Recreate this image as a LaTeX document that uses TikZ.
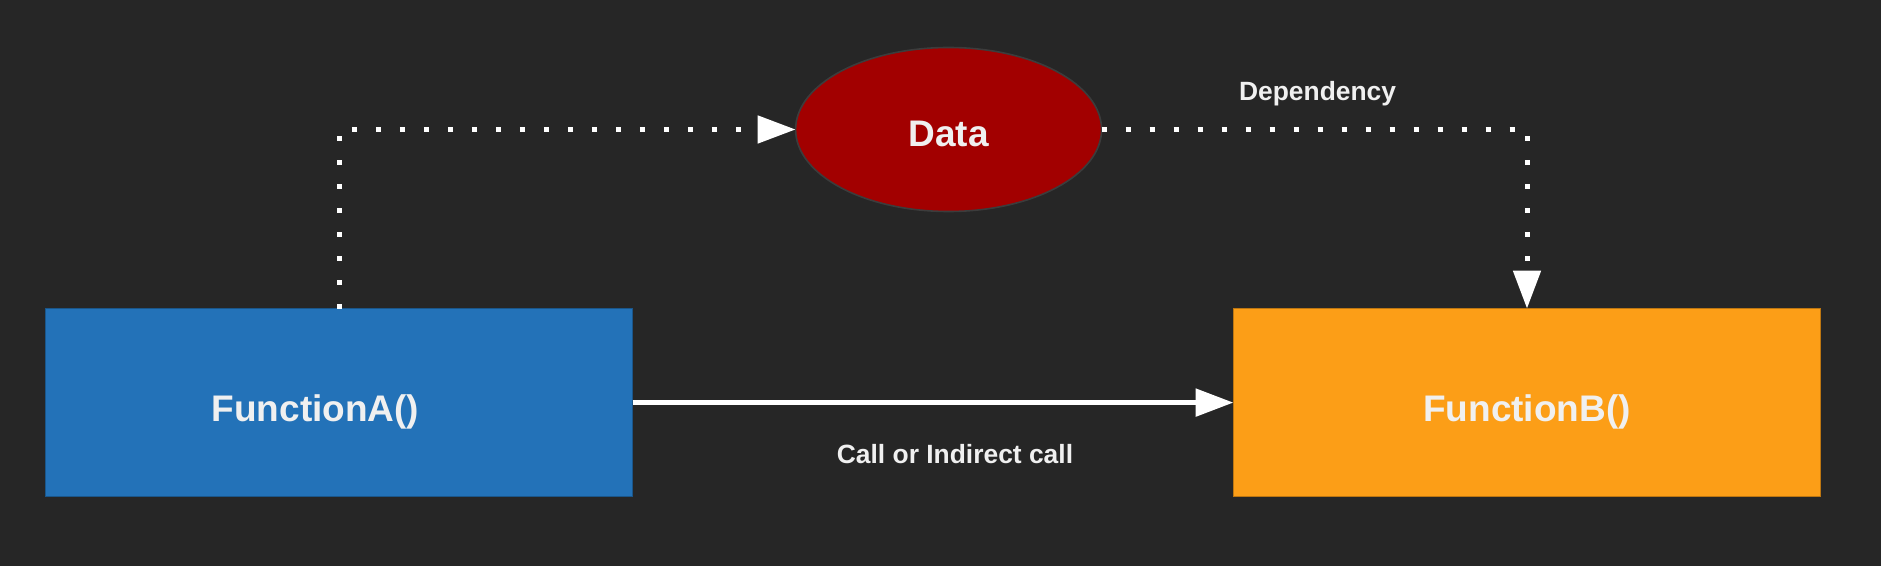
\documentclass[tikz,border=0pt]{standalone}
\usepackage{fontspec}
\setmainfont{Liberation Sans}
\usepackage{tikz}
\usetikzlibrary{arrows.meta,positioning,shapes.geometric}
\definecolor{bgdark}{HTML}{262626}
\definecolor{funcblue}{HTML}{2372B8}
\definecolor{funcorange}{HTML}{FC9E17}
\definecolor{datared}{HTML}{A20000}
\definecolor{edgegray}{HTML}{3C3C3C}
\definecolor{txtwhite}{HTML}{F0F0F0}

\begin{document}
\begin{tikzpicture}[
                    x=0.5pt, y=-0.5pt,
                    >={Triangle[length=19pt,width=13.5pt]},
                    func/.style = {rectangle, minimum width=293.5pt, minimum height=94pt, outer sep=0pt,
                                   fill=#1, draw=#1!75!black, line width=0.6pt},
                    store/.style = {ellipse, minimum width=153pt, minimum height=82pt, outer sep=0pt,
                                    fill=datared, draw=edgegray, line width=0.8pt},
                    every node/.append style = {text=txtwhite, font=\fontsize{18.5}{22}\selectfont\bfseries},
                    every label/.append style = {text=txtwhite, font=\fontsize{18.5}{22}\selectfont\bfseries},
                    el/.style = {inner sep=2pt, font=\fontsize{13.2}{16}\selectfont\bfseries},
                    dep/.style = {->, draw=white, line width=2.5pt, dash pattern=on 2.5pt off 9.5pt},
                    call/.style = {->, draw=white, line width=2.8pt}
                    ]
\fill[bgdark] (0,0) rectangle (1881,566);
\useasboundingbox (0,0) rectangle (1881,566);

\node[func=funcblue,
      label={[xshift=-11.75pt,yshift=-4.7pt]center:FunctionA()}]  (fa) at (339,402.6)  {};
\node[func=funcorange,
      label={[yshift=-4.7pt]center:FunctionB()}]                  (fb) at (1527,402.6) {};
\node[store,
      label={[yshift=-2.2pt]center:Data}]                         (data) at (948.6,129.5) {};

% dependency through the data
\draw[dep] (fa.north) |- (data.west);
\draw[dep] (data.east) -| (fb.north);
\node[el] (deplabel) at (1317.6,93.2) {Dependency};

% direct call
\draw[call] (fa.east) -- (fb.west);
\node[el] (calllabel) at (955,453.7) {Call or Indirect call};
\end{tikzpicture}
\end{document}
